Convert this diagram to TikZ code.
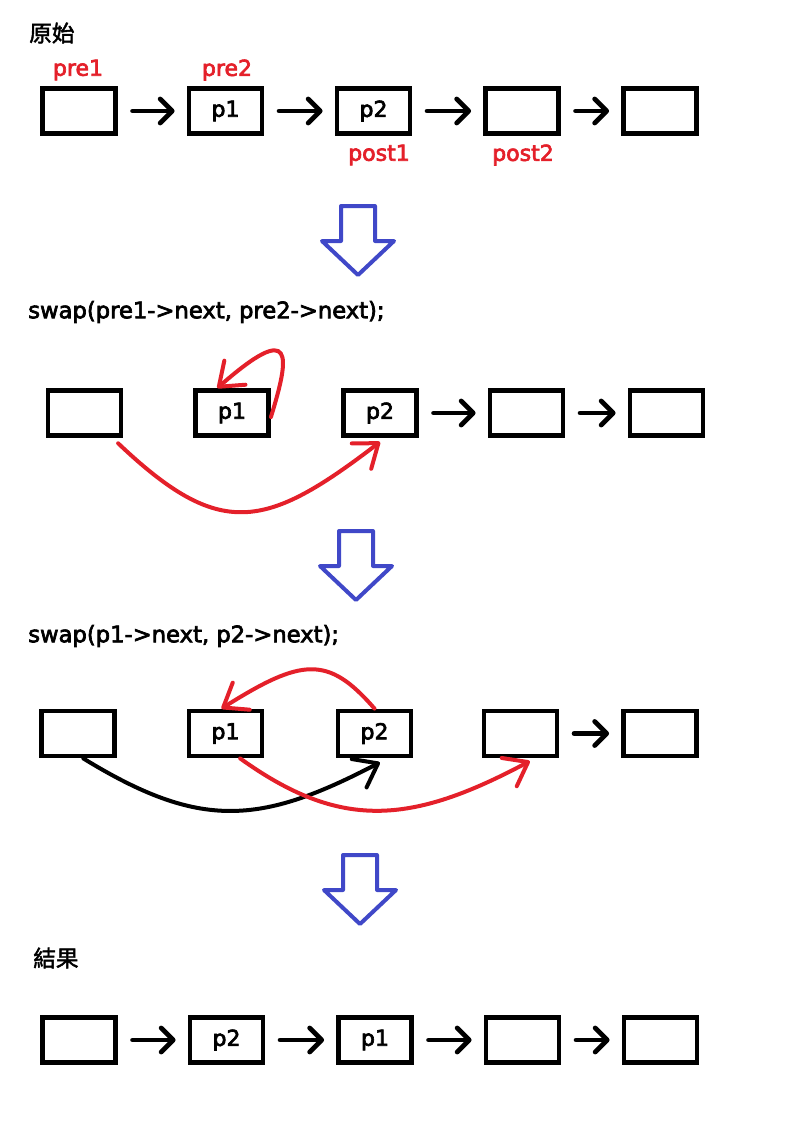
\documentclass[tikz,border=0pt]{standalone}
\usepackage{fontspec}
\setmainfont{DejaVu Sans}[RawFeature={embolden=3}]
\newfontfamily\cjk{Noto Sans CJK TC}[RawFeature={embolden=2}]
\usetikzlibrary{arrows.meta}
\definecolor{markred}{RGB}{228,32,42}
\definecolor{stepblue}{RGB}{64,72,200}
\tikzset{
  cell/.style={draw, line width=3.4pt, minimum width=55pt, minimum height=34pt, inner sep=0pt, font=\fontsize{16.5}{16.5}\selectfont},
  link/.style={line width=3.6pt, line cap=round, -{Straight Barb[length=9pt,width=18pt,line cap=round,line join=round]}, shorten <=11pt, shorten >=9pt},
  swing/.style={line width=3pt, line cap=round, -{Straight Barb[length=16pt,width=24pt,line cap=round,line join=round]}},
  tag/.style={text=markred, inner sep=0pt, font=\fontsize{16.5}{16.5}\selectfont},
  title/.style={anchor=west, inner sep=0pt, font=\fontsize{17}{17}\selectfont},
  down/.style={draw=stepblue, line width=3pt, line join=round}
}
\begin{document}
\begin{tikzpicture}[x=0.75pt,y=-0.75pt]
	\useasboundingbox (0,0) rectangle (801,1142);
	% original list
	\node[title] (t1) at (29,33) {\cjk 原始};
	\node[cell] (a1) at (79,111) {};
	\node[cell] (b1) at (225.5,111) {p1};
	\node[cell] (c1) at (373.5,111) {p2};
	\node[cell] (d1) at (522,111) {};
	\node[cell] (e1) at (660,111) {};
	\node[tag] (pre1) at (78,70) {pre1};
	\node[tag] (pre2) at (227,70) {pre2};
	\node[tag] (post1) at (379,155) {post1};
	\node[tag] (post2) at (523,155) {post2};
	\draw[link] (a1) -- (b1);
	\draw[link] (b1) -- (c1);
	\draw[link] (c1) -- (d1);
	\draw[link] (d1) -- (e1);
	% first swap
	\node[title] (t2) at (28,312) {swap(pre1->next, pre2->next);};
	\node[cell] (a2) at (84.5,413) {};
	\node[cell] (b2) at (232,413) {p1};
	\node[cell] (c2) at (380,413) {p2};
	\node[cell] (d2) at (526.5,413) {};
	\node[cell] (e2) at (666.5,413) {};
	\draw[link] (c2) -- (d2);
	\draw[link] (d2) -- (e2);
	\draw[swing, markred] ([yshift=-3pt]b2.east) .. controls (290,355) and (295,320) .. ([xshift=-11pt]b2.north);
	\draw[swing, markred] ([xshift=-4pt,yshift=-4pt]a2.south east) .. controls (220,540) and (265,530) .. ([yshift=-3pt]c2.south);
	% second swap
	\node[title] (t3) at (28,636) {swap(p1->next, p2->next);};
	\node[cell] (a3) at (78,733.5) {};
	\node[cell] (b3) at (225.5,733.5) {p1};
	\node[cell] (c3) at (374.5,733.5) {p2};
	\node[cell] (d3) at (520.5,733.5) {};
	\node[cell] (e3) at (660,733.5) {};
	\draw[link] (d3) -- (e3);
	\draw[swing] ([xshift=4pt]a3.south) .. controls (200,830) and (260,825) .. ([xshift=4pt,yshift=-3pt]c3.south);
	\draw[swing, markred] ([xshift=11pt]b3.south) .. controls (340,830) and (410,825) .. ([xshift=7pt,yshift=-2pt]d3.south);
	\draw[swing, markred] (c3.north) .. controls (328,655) and (302,658) .. ([xshift=-3pt]b3.north);
	% result
	\node[title] (t4) at (33,958) {\cjk 結果};
	\node[cell] (a4) at (79,1040) {};
	\node[cell] (b4) at (226.5,1040) {p2};
	\node[cell] (c4) at (375,1040) {p1};
	\node[cell] (d4) at (522.5,1040) {};
	\node[cell] (e4) at (660.5,1040) {};
	\draw[link] (a4) -- (b4);
	\draw[link] (b4) -- (c4);
	\draw[link] (c4) -- (d4);
	\draw[link] (d4) -- (e4);
	% step arrows
	\foreach \x/\y in {358/204, 356/529, 360/853}
		\draw[down] (\x-17,\y+2) -- (\x+17,\y+2) -- (\x+17,\y+37) -- (\x+36,\y+37) -- (\x,\y+71) -- (\x-36,\y+37) -- (\x-17,\y+37) -- cycle;
\end{tikzpicture}
\end{document}
